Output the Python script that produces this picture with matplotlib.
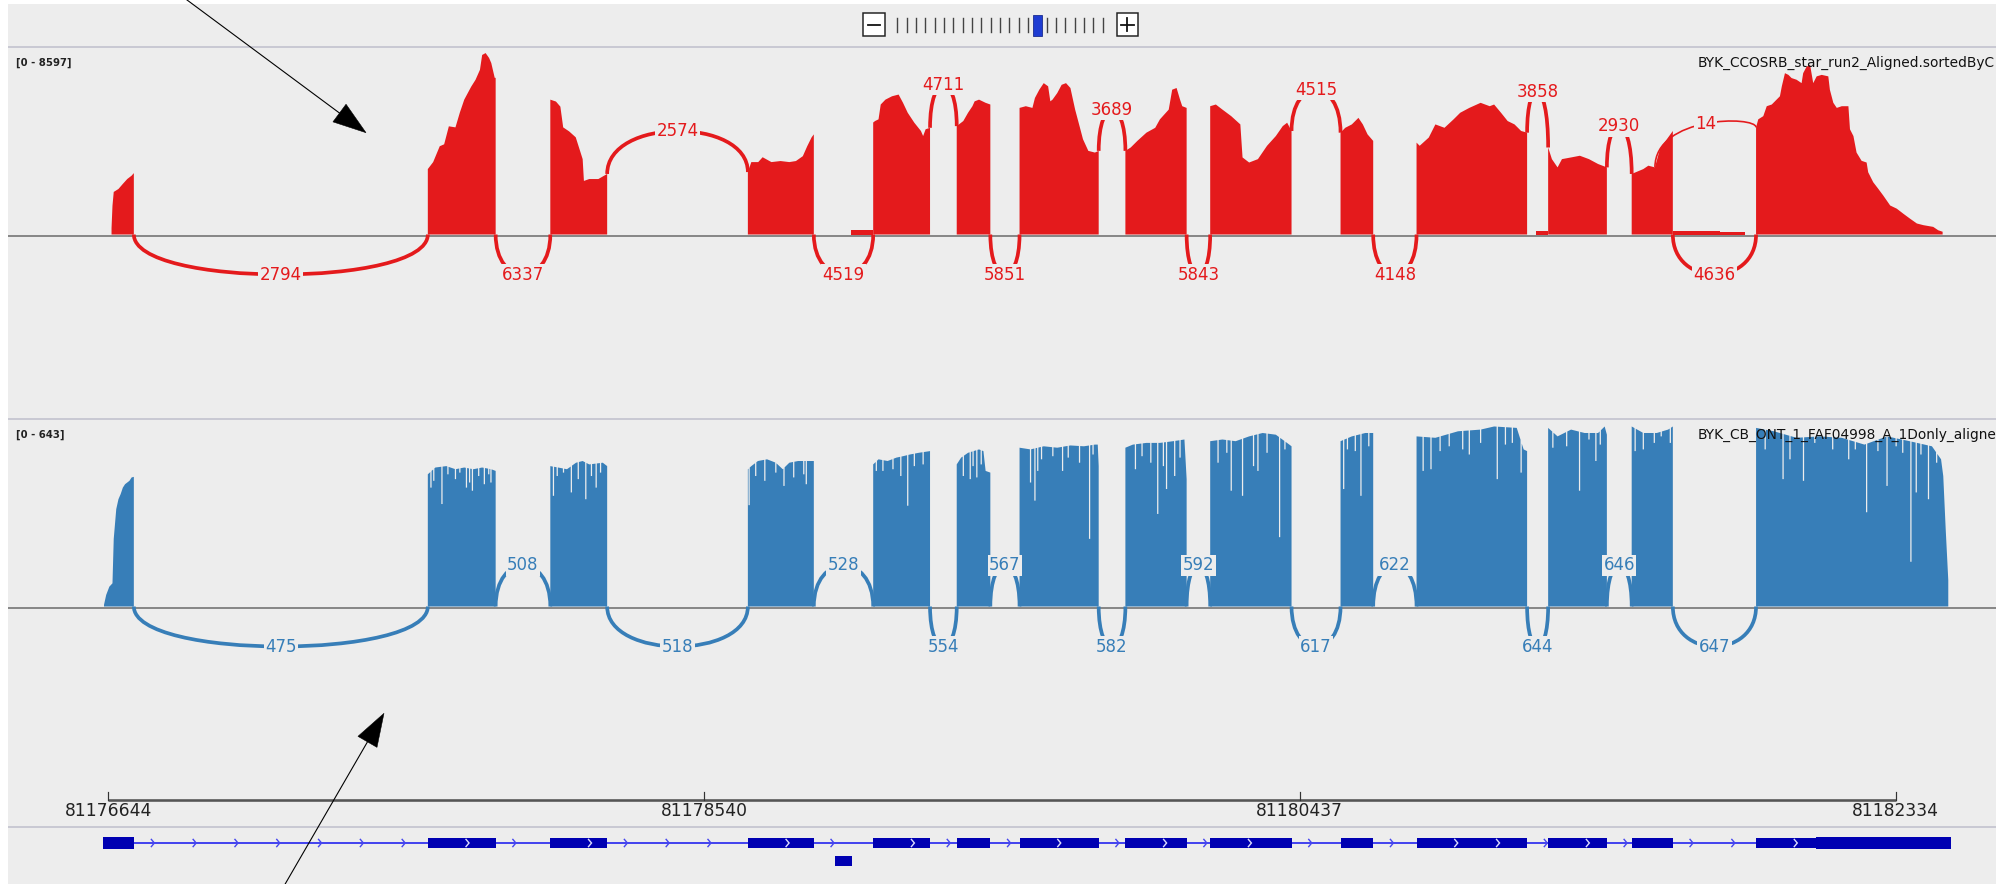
import numpy as np
import matplotlib
matplotlib.use("Agg")
import matplotlib.pyplot as plt
from matplotlib.path import Path
from matplotlib.patches import PathPatch, Rectangle, Polygon

# ------------------------------------------------------------------ data
REGION_START = 81176644
RULER_LABELS = ["81176644", "81178540", "81180437", "81182334"]

RNASEQ_TRACK = "BYK_CCOSRB_star_run2_Aligned.sortedByC"
ONT_TRACK = "BYK_CB_ONT_1_FAF04998_A_1Donly_aligne"
RNASEQ_MAX = 8597
ONT_MAX = 643

# gene model, bp relative to REGION_START
EXON_STARTS = [-16, 1017, 1407, 2036, 2435, 2701, 2901, 3238, 3508, 3923, 4165, 4584, 4850, 5246]
EXON_ENDS = [82, 1233, 1588, 2246, 2616, 2808, 3153, 3433, 3767, 4027, 4517, 4771, 4981, 5868]
THICK_STARTS = [-16, 5438]
THICK_ENDS = [82, 5868]
ALT_EXON_START, ALT_EXON_END = 2315, 2368

# short-read coverage: (bp, depth) per covered block
red_e01 = [(10, 300), (13, 1360), (17, 2010), (32, 2150), (46, 2390), (60, 2620), (74, 2780), (81, 2900)]
red_e02 = [(1017, 3090), (1034, 3420), (1055, 4170), (1069, 4260), (1084, 5110), (1105, 5060), (1119, 5760),
           (1133, 6370), (1155, 6980), (1169, 7310), (1183, 7780), (1190, 8480), (1201, 8570), (1212, 8340),
           (1219, 8100), (1230, 7400), (1233, 7400)]
red_e03 = [(1407, 6370), (1425, 6280), (1439, 6040), (1448, 5060), (1467, 4870), (1488, 4590), (1503, 3890),
           (1510, 3560), (1514, 2530), (1531, 2620), (1560, 2620), (1588, 2860)]
red_e04 = [(2036, 2950), (2047, 3420), (2069, 3420), (2083, 3650), (2111, 3420), (2140, 3470), (2168, 3420),
           (2189, 3470), (2211, 3700), (2225, 4170), (2239, 4590), (2246, 4730)]
red_low1 = [(2364, 190), (2435, 190)]
red_e05 = [(2435, 5290), (2441, 5360), (2452, 5440), (2459, 6140), (2474, 6370), (2495, 6530), (2516, 6610),
           (2530, 6220), (2545, 5750), (2566, 5280), (2587, 4890), (2594, 4650), (2602, 4970), (2616, 5040)]
red_e06 = [(2701, 5120), (2722, 5360), (2737, 5750), (2751, 6060), (2758, 6290), (2772, 6370), (2793, 6220),
           (2808, 6140)]
red_e07 = [(2901, 5980), (2921, 6060), (2942, 5980), (2950, 6450), (2964, 6840), (2978, 7150), (2992, 7000),
           (2999, 6290), (3006, 6370), (3021, 6680), (3035, 7070), (3049, 7150), (3063, 6920), (3078, 5900),
           (3092, 5120), (3103, 4500), (3120, 3950), (3141, 3870), (3153, 3950)]
red_e08 = [(3238, 3950), (3255, 4110), (3276, 4420), (3305, 4810), (3333, 5040), (3348, 5440), (3362, 5670),
           (3376, 5900), (3387, 6840), (3401, 6920), (3412, 6370), (3419, 6060), (3433, 5980)]
red_e09 = [(3508, 6060), (3526, 6140), (3547, 5900), (3575, 5590), (3604, 5200), (3611, 3640), (3632, 3400),
           (3660, 3560), (3689, 4190), (3717, 4650), (3739, 5120), (3753, 5280), (3767, 4890)]
red_e10 = [(3923, 4810), (3938, 5040), (3959, 5200), (3980, 5510), (3994, 5200), (4009, 4730), (4027, 4420)]
red_e11 = [(4165, 4340), (4175, 4190), (4204, 4580), (4225, 5200), (4254, 5040), (4283, 5440), (4304, 5750),
           (4333, 5980), (4369, 6220), (4398, 6060), (4412, 6140), (4434, 5750), (4455, 5360), (4477, 5200),
           (4498, 4890), (4517, 4810)]
red_low2 = [(4544, 160), (4584, 160)]
red_e12 = [(4584, 4110), (4596, 3560), (4614, 3170), (4628, 3560), (4657, 3640), (4685, 3720), (4714, 3560),
           (4743, 3330), (4771, 3170)]
red_e13 = [(4850, 2860), (4887, 3090), (4903, 3250), (4924, 3170), (4940, 4030), (4962, 4500), (4981, 4890)]
red_low3 = [(4981, 160), (5131, 160), (5131, 140), (5211, 140)]
red_e14 = [(5246, 5060), (5253, 5440), (5269, 5590), (5280, 6060), (5296, 6140), (5306, 6290), (5322, 6530),
           (5328, 7000), (5338, 7620), (5349, 7540), (5359, 7390), (5375, 7310), (5391, 7150), (5396, 7620),
           (5407, 7930), (5418, 8010), (5428, 7150), (5439, 7470), (5455, 7540), (5476, 7470), (5481, 6840),
           (5492, 6220), (5503, 5980), (5519, 6060), (5540, 6060), (5545, 4970), (5556, 4650), (5566, 3870),
           (5582, 3480), (5598, 3400), (5603, 2940), (5619, 2470), (5635, 2160), (5651, 1840), (5673, 1370),
           (5694, 1220), (5715, 980), (5736, 750), (5758, 520), (5779, 440), (5810, 360), (5826, 200), (5840, 130)]

# long-read coverage: envelope (bp, depth) plus single-position dips (bp, depth)
ont_e01_env = [(-14, 6), (-7, 41), (3, 70), (13, 82), (17, 239), (25, 344), (32, 379), (39, 397), (46, 420),
               (53, 432), (67, 444), (74, 456), (81, 458)]
ont_e01_dips = []
ont_e02_env = [(1017, 467), (1041, 491), (1076, 496), (1105, 485), (1133, 491), (1162, 485), (1190, 491),
               (1219, 485), (1233, 479)]
ont_e02_dips = [(1027, 420), (1036, 444), (1062, 362), (1081, 467), (1105, 450), (1119, 473), (1140, 420),
                (1150, 438), (1159, 409), (1179, 461), (1197, 432), (1211, 467), (1218, 438)]
ont_e03_env = [(1407, 496), (1432, 491), (1460, 485), (1489, 508), (1510, 514), (1531, 502), (1574, 508),
               (1588, 496)]
ont_e03_dips = [(1417, 391), (1429, 461), (1449, 473), (1474, 403), (1496, 450), (1520, 379), (1538, 461),
                (1553, 420), (1567, 473)]
ont_e04_env = [(2036, 485), (2047, 496), (2068, 514), (2097, 520), (2125, 508), (2147, 485), (2168, 508),
               (2196, 514), (2246, 514)]
ont_e04_dips = [(2040, 358), (2061, 461), (2090, 444), (2125, 473), (2151, 426), (2182, 456), (2214, 467),
                (2222, 432)]
ont_e05_env = [(2435, 502), (2452, 520), (2481, 514), (2509, 526), (2530, 531), (2552, 537), (2580, 543),
               (2616, 549)]
ont_e05_dips = [(2445, 479), (2466, 479), (2498, 485), (2523, 461), (2545, 356), (2566, 496), (2594, 502)]
ont_e06_env = [(2701, 502), (2715, 526), (2737, 543), (2772, 555), (2786, 549), (2793, 479), (2808, 473)]
ont_e06_dips = [(2722, 461), (2744, 450), (2753, 496), (2765, 456), (2779, 502)]
ont_e07_env = [(2901, 561), (2936, 555), (2978, 566), (3021, 561), (3063, 569), (3106, 566), (3141, 572),
               (3150, 572), (3153, 496)]
ont_e07_dips = [(2936, 438), (2950, 374), (2959, 479), (2971, 520), (3007, 531), (3038, 479), (3056, 526),
                (3092, 508), (3124, 239), (3135, 537)]
ont_e08_env = [(3238, 561), (3262, 572), (3305, 578), (3348, 578), (3390, 584), (3426, 590), (3433, 450)]
ont_e08_dips = [(3270, 485), (3291, 531), (3319, 508), (3341, 327), (3359, 496), (3369, 415), (3395, 461),
                (3412, 526)]
ont_e09_env = [(3508, 584), (3547, 590), (3589, 584), (3632, 601), (3675, 613), (3717, 607), (3760, 572),
               (3767, 566)]
ont_e09_dips = [(3533, 508), (3561, 543), (3575, 409), (3611, 391), (3646, 496), (3660, 479), (3689, 543),
                (3729, 245), (3746, 555)]
ont_e10_env = [(3923, 584), (3959, 601), (4002, 613), (4027, 613)]
ont_e10_dips = [(3933, 415), (3945, 555), (3970, 549), (3988, 391), (4013, 566)]
ont_e11_env = [(4165, 601), (4225, 596), (4297, 619), (4369, 625), (4412, 636), (4484, 631), (4506, 555),
               (4517, 549)]
ont_e11_dips = [(4186, 479), (4211, 485), (4240, 549), (4269, 566), (4312, 555), (4333, 537), (4369, 578),
                (4422, 450), (4448, 572), (4470, 578), (4498, 473)]
ont_e12_env = [(4584, 631), (4614, 601), (4657, 625), (4700, 613), (4743, 613), (4764, 636), (4771, 607)]
ont_e12_dips = [(4599, 561), (4643, 566), (4684, 409), (4714, 590), (4736, 514), (4750, 572)]
ont_e13_env = [(4850, 636), (4887, 613), (4930, 613), (4966, 625), (4981, 636)]
ont_e13_dips = [(4861, 549), (4887, 555), (4922, 578), (4944, 601), (4973, 578)]
ont_e14_env = [(5246, 631), (5303, 619), (5375, 596), (5447, 601), (5519, 596), (5591, 572), (5663, 601),
               (5735, 584), (5806, 566), (5835, 520), (5842, 461), (5850, 268), (5858, 93)]
ont_e14_dips = [(5275, 555), (5332, 450), (5354, 520), (5397, 444), (5433, 578), (5490, 555), (5541, 520),
                (5562, 555), (5598, 333), (5634, 549), (5663, 426), (5692, 566), (5713, 543), (5739, 158),
                (5756, 403), (5771, 537), (5795, 379), (5821, 508)]

# splice junctions: donor, acceptor, read count, side of the axis
RNASEQ_DONORS = [81, 1233, 1588, 2246, 2616, 2808, 3153, 3433, 3767, 4027, 4517, 4771, 4924, 4981]
RNASEQ_ACCEPTORS = [1017, 1407, 2036, 2435, 2701, 2901, 3238, 3508, 3923, 4165, 4584, 4850, 5246, 5246]
RNASEQ_COUNTS = [2794, 6337, 2574, 4519, 4711, 5851, 3689, 5843, 4515, 4148, 3858, 2930, 14, 4636]
RNASEQ_SIDES = ["below", "below", "above", "below", "above", "below", "above", "below", "above", "below",
                "above", "above", "above", "below"]

ONT_DONORS = [81, 1233, 1588, 2246, 2616, 2808, 3153, 3433, 3767, 4027, 4517, 4771, 4981]
ONT_ACCEPTORS = [1017, 1407, 2036, 2435, 2701, 2901, 3238, 3508, 3923, 4165, 4584, 4850, 5246]
ONT_COUNTS = [475, 508, 518, 528, 554, 567, 582, 592, 617, 622, 644, 646, 647]
ONT_SIDES = ["below", "above", "below", "above", "below", "above", "below", "above", "below", "above",
             "below", "above", "below"]

RED_BLOCKS = [red_e01, red_e02, red_e03, red_e04, red_low1, red_e05, red_e06, red_e07, red_e08, red_e09,
              red_e10, red_e11, red_low2, red_e12, red_e13, red_low3, red_e14]
ONT_BLOCKS = [(ont_e01_env, ont_e01_dips), (ont_e02_env, ont_e02_dips), (ont_e03_env, ont_e03_dips),
              (ont_e04_env, ont_e04_dips), (ont_e05_env, ont_e05_dips), (ont_e06_env, ont_e06_dips),
              (ont_e07_env, ont_e07_dips), (ont_e08_env, ont_e08_dips), (ont_e09_env, ont_e09_dips),
              (ont_e10_env, ont_e10_dips), (ont_e11_env, ont_e11_dips), (ont_e12_env, ont_e12_dips),
              (ont_e13_env, ont_e13_dips), (ont_e14_env, ont_e14_dips)]

# ------------------------------------------------------------------ layout
W, H = 2008, 884
PT = 0.72                      # points per pixel at 100 dpi
BP_PER_PX = 3.1839
ORIGIN_PX = 108.4              # pixel column of REGION_START
VIEW = (-ORIGIN_PX * BP_PER_PX, (W - ORIGIN_PX) * BP_PER_PX)
PX0, PY0, PX1, PY1 = 8, 4, 1996, 884
BG = "#ededed"
RED = "#e41a1c"
BLUE = "#377eb8"
GENE = "#0000b2"
INTRON = "#4646ee"
SEP = "#c9c9d3"

RED_ZERO, RED_TOP = 234.5, 52.5
ONT_ZERO, ONT_TOP = 606.5, 424.5
ARC_RISE_PX = 41
ARC_DROP_PX = 40

fig = plt.figure(figsize=(W / 100, H / 100), dpi=100)
fig.patch.set_facecolor("white")


def axes_px(x0, y0, x1, y1, z):
    ax = fig.add_axes([x0 / W, 1 - y1 / H, (x1 - x0) / W, (y1 - y0) / H], zorder=z)
    ax.axis("off")
    ax.patch.set_alpha(0)
    return ax


# background panel
bg = axes_px(0, 0, W, H, 0)
bg.set_xlim(0, W)
bg.set_ylim(H, 0)
bg.add_patch(Rectangle((PX0, PY0), PX1 - PX0, PY1 - PY0, fc=BG, ec="none"))
for y in (46.7, 419.0, 826.7):
    bg.plot([PX0, PX1], [y, y], color=SEP, lw=2 * PT, solid_capstyle="butt")
for y in (236.0, 608.3):
    bg.plot([PX0, PX1], [y, y], color="#707070", lw=1.6 * PT, solid_capstyle="butt")

# zoom widget
bg.add_patch(Rectangle((862.7, 13.3), 22.3, 22.4, fc="white", ec="#222222", lw=1.5 * PT))
bg.plot([867.8, 880.0], [24.5, 24.5], color="#111111", lw=1.8 * PT)
bg.add_patch(Rectangle((1116.7, 13.3), 21.6, 22.4, fc="white", ec="#222222", lw=1.5 * PT))
bg.plot([1121.3, 1133.7], [24.5, 24.5], color="#111111", lw=1.8 * PT)
bg.plot([1127.5, 1127.5], [18.3, 30.7], color="#111111", lw=1.8 * PT)
for k in range(15):
    x = 897.3 + 9.33 * k
    bg.plot([x, x], [17.7, 31.7], color="#444444", lw=1.4 * PT)
for k in range(7):
    x = 1046.7 + 9.33 * k
    bg.plot([x, x], [17.7, 31.7], color="#444444", lw=1.4 * PT)
bg.add_patch(Rectangle((1033.3, 15.0), 8.4, 20.7, fc="#1e3cd2", ec="#16288c", lw=0.8 * PT))

bg.text(15.6, 62.7, f"[0 - {RNASEQ_MAX}]", fontsize=7.3, fontweight="bold", color="#222222",
        ha="left", va="center")
bg.text(15.6, 435.0, f"[0 - {ONT_MAX}]", fontsize=7.3, fontweight="bold", color="#222222",
        ha="left", va="center")

# ------------------------------------------------------------------ coverage tracks
def block_height(blocks, pos):
    best = 0.0
    for b in blocks:
        xs = [p for p, _ in b]
        if xs[0] <= pos <= xs[-1]:
            best = max(best, float(np.interp(pos, xs, [v for _, v in b])))
    return best


def notched(env, dips, half=2.0):
    ex = np.array([p for p, _ in env], float)
    ev = np.array([v for _, v in env], float)
    pts = []
    for p, v in zip(ex, ev):
        if not any(abs(p - d) <= half for d, _ in dips):
            pts.append((p, v, 1))
    for d, v in dips:
        pts.append((d - half, float(np.interp(d - half, ex, ev)), 0))
        pts.append((d - half, v, 1))
        pts.append((d + half, v, 0))
        pts.append((d + half, float(np.interp(d + half, ex, ev)), 1))
    pts.sort(key=lambda t: (t[0], t[2]))
    return [(p, v) for p, v, _ in pts]


def draw_junctions(ax, donors, acceptors, counts, sides, color, upp, base_fn):
    for d0, d1, n, side in zip(donors, acceptors, counts, sides):
        if side == "above":
            y0, y1 = base_fn(d0), base_fn(d1)
            apex = max(y0, y1) + ARC_RISE_PX * min(1.0, n / 150) * upp
        else:
            y0 = y1 = 0.0
            apex = -ARC_DROP_PX * upp
        c = (apex - (y0 + y1) / 8) / 0.75
        path = Path([(d0, y0), (d0, c), (d1, c), (d1, y1)],
                    [Path.MOVETO, Path.CURVE4, Path.CURVE4, Path.CURVE4])
        lw = 1.3 + 2.4 * min(1.0, n / 100)
        ax.add_patch(PathPatch(path, fill=False, ec=color, lw=lw * PT, clip_on=False,
                               capstyle="butt", zorder=3))
        ax.text((d0 + d1) / 2, apex, f"{n}", color=color, fontsize=12, ha="center", va="center",
                zorder=4, clip_on=False,
                bbox=dict(boxstyle="square,pad=0.08", fc=BG, ec="none"))


ax_red = axes_px(0, RED_TOP, W, RED_ZERO, 2)
ax_red.set_xlim(*VIEW)
ax_red.set_ylim(0, RNASEQ_MAX)
for b in RED_BLOCKS:
    poly = [(b[0][0], 0)] + list(b) + [(b[-1][0], 0)]
    ax_red.add_patch(Polygon(poly, closed=True, fc=RED, ec="none", zorder=2))
upp_red = RNASEQ_MAX / (RED_ZERO - RED_TOP)
draw_junctions(ax_red, RNASEQ_DONORS, RNASEQ_ACCEPTORS, RNASEQ_COUNTS, RNASEQ_SIDES, RED, upp_red,
               lambda p: block_height(RED_BLOCKS, p))

ax_ont = axes_px(0, ONT_TOP, W, ONT_ZERO, 2)
ax_ont.set_xlim(*VIEW)
ax_ont.set_ylim(0, ONT_MAX)
for env, dips in ONT_BLOCKS:
    pts = notched(env, dips)
    poly = [(pts[0][0], 0)] + pts + [(pts[-1][0], 0)]
    ax_ont.add_patch(Polygon(poly, closed=True, fc=BLUE, ec="none", zorder=2))
upp_ont = ONT_MAX / (ONT_ZERO - ONT_TOP)
draw_junctions(ax_ont, ONT_DONORS, ONT_ACCEPTORS, ONT_COUNTS, ONT_SIDES, BLUE, upp_ont, lambda p: 0.0)

# ------------------------------------------------------------------ ruler and gene model
fr = axes_px(0, 0, W, H, 1)
fr.set_xlim(*VIEW)
fr.set_ylim(H, 0)

tick_bp = [int(t) - REGION_START for t in RULER_LABELS]
fr.plot([tick_bp[0], tick_bp[-1]], [800, 800], color="#555555", lw=2.6 * PT, solid_capstyle="butt")
for t, lab in zip(tick_bp, RULER_LABELS):
    fr.plot([t, t], [791.5, 800], color="#333333", lw=1.2 * PT)
    fr.text(t, 811.5, lab, fontsize=12.3, color="#222222", ha="center", va="center")

GY = 843.0
fr.plot([EXON_STARTS[0], EXON_ENDS[-1]], [GY, GY], color=INTRON, lw=2 * PT, solid_capstyle="butt", zorder=2)


def chevron(x, color):
    dx = BP_PER_PX
    fr.plot([x - 1.8 * dx, x + 1.2 * dx, x - 1.8 * dx], [GY - 3.6, GY, GY + 3.6], color=color,
            lw=1.4 * PT, zorder=4, solid_joinstyle="miter")


for s, e in zip(EXON_ENDS[:-1], EXON_STARTS[1:]):
    x = s + 19 * BP_PER_PX
    while x < e - 2 * BP_PER_PX:
        chevron(x, INTRON)
        x += 41.8 * BP_PER_PX

for s, e in zip(EXON_STARTS, EXON_ENDS):
    fr.add_patch(Rectangle((s, GY - 5), e - s, 10, fc=GENE, ec="none", zorder=3))
    thin_end = e
    for ts, te in zip(THICK_STARTS, THICK_ENDS):
        if ts <= s < te:
            thin_end = s
        elif s < ts < e:
            thin_end = min(thin_end, ts)
    x = s + 40 * BP_PER_PX
    while x < thin_end - 3 * BP_PER_PX:
        chevron(x, "#dcdcff")
        x += 41.8 * BP_PER_PX
for ts, te in zip(THICK_STARTS, THICK_ENDS):
    fr.add_patch(Rectangle((ts, GY - 6.5), te - ts, 12, fc=GENE, ec="none", zorder=3))
fr.add_patch(Rectangle((ALT_EXON_START, 855.7), ALT_EXON_END - ALT_EXON_START, 10.3, fc=GENE, ec="none"))

# ------------------------------------------------------------------ track names and pointers
top = axes_px(PX0, PY0, PX1, PY1, 5)
top.set_xlim(PX0, PX1)
top.set_ylim(PY1, PY0)
top.text(1697.3, 62.7, RNASEQ_TRACK, fontsize=9.9, color="#111111", ha="left", va="center", clip_on=True)
top.text(1697.3, 435.0, ONT_TRACK, fontsize=9.9, color="#111111", ha="left", va="center", clip_on=True)


def pointer(x0, y0, x1, y1, head_len=33.0, half_w=11.0):
    v = np.array([x1 - x0, y1 - y0], float)
    u = v / np.hypot(*v)
    n = np.array([-u[1], u[0]])
    tip = np.array([x1, y1])
    base = tip - u * head_len
    top.plot([x0, base[0]], [y0, base[1]], color="black", lw=1.1 * PT, clip_on=False)
    top.add_patch(Polygon([tip, base + n * half_w, base - n * half_w], closed=True, fc="black",
                          ec="black", lw=0.5 * PT, clip_on=False))


pointer(185.7, -1.0, 366.0, 132.7)
pointer(284.0, 886.0, 384.0, 713.3)

fig.savefig("out.png", dpi=100, facecolor="white")
